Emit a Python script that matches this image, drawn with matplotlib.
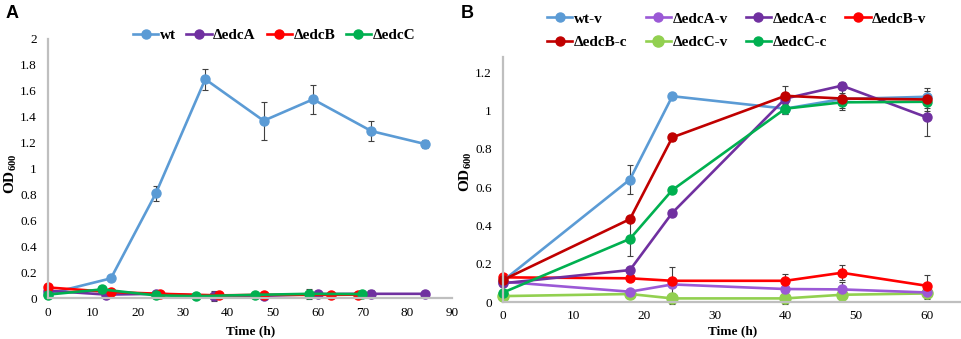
import matplotlib
matplotlib.use("Agg")
import matplotlib.pyplot as plt
from matplotlib.lines import Line2D
from matplotlib.ticker import FuncFormatter, MultipleLocator

plt.rcParams["font.family"] = "Liberation Serif"
plt.rcParams["mathtext.fontset"] = "custom"
plt.rcParams["mathtext.rm"] = "Liberation Serif"
plt.rcParams["mathtext.bf"] = "Liberation Serif:bold"

BLUE = "#5B9BD5"
PURPLE = "#7030A0"
LIGHT_PURPLE = "#9B59D6"
RED = "#FF0000"
DARK_RED = "#C00000"
GREEN = "#00B050"
LIGHT_GREEN = "#92D050"
ERR = "#404040"
SPINE = "#BFBFBF"

# ---- Panel A data ----
a_wt_t = [0, 14, 24, 35, 48, 59, 72, 84]
a_wt = [0.035, 0.155, 0.81, 1.69, 1.37, 1.535, 1.29, 1.19]
a_wt_err = [0.01, 0.02, 0.06, 0.08, 0.145, 0.11, 0.075, 0.03]

a_A_t = [0, 13, 24, 37, 48, 60, 72, 84]
a_A = [0.06, 0.03, 0.036, 0.02, 0.02, 0.034, 0.036, 0.036]
a_A_err = [0.01, 0.01, 0.01, 0.04, 0.01, 0.01, 0.03, 0.01]

a_B_t = [0, 14, 25, 38, 48, 63, 69]
a_B = [0.085, 0.05, 0.036, 0.024, 0.028, 0.028, 0.03]
a_B_err = [0.01, 0.01, 0.01, 0.01, 0.01, 0.01, 0.01]

a_C_t = [0, 12, 24, 33, 46, 58, 70]
a_C = [0.03, 0.07, 0.024, 0.018, 0.028, 0.036, 0.034]
a_C_err = [0.01, 0.01, 0.01, 0.01, 0.01, 0.04, 0.01]

# ---- Panel B data ----
b_t = [0, 18, 24, 40, 48, 60]
b_wt_v = [0.11, 0.64, 1.075, 1.01, 1.06, 1.072]
b_wt_v_err = [0.01, 0.075, 0.015, 0.03, 0.03, 0.03]
b_A_v = [0.106, 0.054, 0.092, 0.068, 0.066, 0.05]
b_A_v_err = [0.01, 0.01, 0.01, 0.01, 0.04, 0.01]
b_A_c = [0.098, 0.167, 0.466, 1.063, 1.13, 0.965]
b_A_c_err = [0.01, 0.01, 0.01, 0.03, 0.02, 0.1]
b_B_v = [0.129, 0.124, 0.111, 0.111, 0.153, 0.085]
b_B_v_err = [0.01, 0.01, 0.07, 0.035, 0.04, 0.055]
b_B_c = [0.115, 0.433, 0.86, 1.077, 1.063, 1.058]
b_B_c_err = [0.01, 0.01, 0.02, 0.05, 0.05, 0.06]
b_C_v = [0.031, 0.042, 0.019, 0.019, 0.038, 0.045]
b_C_v_err = [0.01, 0.01, 0.03, 0.03, 0.03, 0.03]
b_C_c = [0.049, 0.33, 0.585, 1.01, 1.043, 1.046]
b_C_c_err = [0.01, 0.09, 0.01, 0.03, 0.04, 0.03]

fig = plt.figure(figsize=(9.62, 3.39), dpi=100)
axA = fig.add_axes([0.0499, 0.1195, 0.4203, 0.7655])
axB = fig.add_axes([0.5226, 0.109, 0.4774, 0.723])


def series(ax, t, y, e, color, label, ms=6.5):
    ax.errorbar(t, y, yerr=e, color=color, lw=1.9, marker="o", ms=ms,
                ecolor=ERR, elinewidth=0.8, capsize=2, capthick=0.8,
                clip_on=False)
    return Line2D([], [], color=color, lw=1.9, marker="o", ms=ms, label=label)


def style(ax, xmax, ymax, ystep, lab_x, lab_y, xpad):
    ax.set_xlim(0, xmax)
    ax.set_ylim(0, ymax)
    ax.xaxis.set_major_locator(MultipleLocator(10))
    ax.yaxis.set_major_locator(MultipleLocator(ystep))
    ax.yaxis.set_major_formatter(FuncFormatter(lambda v, p: f"{v:g}"))
    for s in ["top", "right"]:
        ax.spines[s].set_visible(False)
    for s in ["left", "bottom"]:
        ax.spines[s].set_color(SPINE)
        ax.spines[s].set_linewidth(1.6)
    ax.tick_params(length=0, labelsize=9.5)
    ax.tick_params(axis="x", pad=6)
    ax.tick_params(axis="y", pad=8)
    ax.set_xlabel("Time (h)", fontweight="bold", fontsize=9.5, labelpad=xpad)
    ax.set_ylabel(r"$\mathbf{OD}_{\mathbf{600}}$", fontsize=11)
    ax.yaxis.set_label_coords(lab_x, lab_y)


legend_kw = dict(bbox_transform=fig.transFigure, frameon=False,
                 prop={"weight": "bold", "size": 11}, handlelength=1.65,
                 handletextpad=0.1, borderpad=0, borderaxespad=0)

hA = [series(axA, a_wt_t, a_wt, a_wt_err, BLUE, "wt"),
      series(axA, a_A_t, a_A, a_A_err, PURPLE, "ΔedcA"),
      series(axA, a_B_t, a_B, a_B_err, RED, "ΔedcB"),
      series(axA, a_C_t, a_C, a_C_err, GREEN, "ΔedcC")]
style(axA, 90, 2, 0.2, -0.072, 0.48, 5)
axA.legend(handles=hA, loc="center", bbox_to_anchor=(274 / 962, 1 - 35 / 339),
           ncol=4, columnspacing=0.7, **legend_kw)

hB = {}
hB["ΔedcC-v"] = series(axB, b_t, b_C_v, b_C_v_err, LIGHT_GREEN, "ΔedcC-v", ms=8)
hB["ΔedcA-v"] = series(axB, b_t, b_A_v, b_A_v_err, LIGHT_PURPLE, "ΔedcA-v")
hB["ΔedcB-v"] = series(axB, b_t, b_B_v, b_B_v_err, RED, "ΔedcB-v")
hB["wt-v"] = series(axB, b_t, b_wt_v, b_wt_v_err, BLUE, "wt-v")
hB["ΔedcA-c"] = series(axB, b_t, b_A_c, b_A_c_err, PURPLE, "ΔedcA-c")
hB["ΔedcC-c"] = series(axB, b_t, b_C_c, b_C_c_err, GREEN, "ΔedcC-c")
hB["ΔedcB-c"] = series(axB, b_t, b_B_c, b_B_c_err, DARK_RED, "ΔedcB-c")
style(axB, 65, 1.28, 0.2, -0.062, 0.53, 2)

order = ["wt-v", "ΔedcB-c", "ΔedcA-v", "ΔedcC-v", "ΔedcA-c", "ΔedcC-c", "ΔedcB-v"]
axB.legend(handles=[hB[k] for k in order], loc="upper left",
           bbox_to_anchor=(547 / 962, 1 - 12 / 339), ncol=4,
           columnspacing=1.2, labelspacing=0.62, **legend_kw)

fig.text(12 / 962, 1 - 13 / 339, "A", family="Liberation Sans", weight="bold",
         fontsize=13, ha="center", va="center")
fig.text(467 / 962, 1 - 13 / 339, "B", family="Liberation Sans", weight="bold",
         fontsize=13, ha="center", va="center")

fig.savefig("out.png", dpi=100)
